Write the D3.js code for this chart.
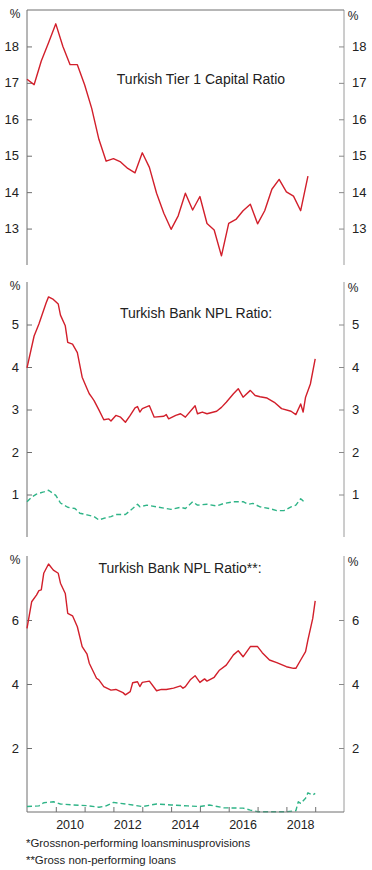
<!DOCTYPE html>
<html><head><meta charset="utf-8">
<script src="https://cdn.jsdelivr.net/npm/d3@7"></script>
<style>
body{margin:0;background:#fff}
svg{display:block}
text{font-family:"Liberation Sans",Arial,sans-serif;fill:#222}
</style>
</head><body><svg id="c" width="372" height="870"></svg>
<script>
// ---------- DATA ----------
const tier1Dates = ["2009-01","2009-04","2009-07","2009-10","2010-01","2010-04","2010-07","2010-10",
 "2011-01","2011-04","2011-07","2011-10","2012-01","2012-04","2012-07","2012-10",
 "2013-01","2013-04","2013-07","2013-10","2014-01","2014-04","2014-07","2014-10",
 "2015-01","2015-04","2015-07","2015-10","2016-01","2016-04","2016-07","2016-10",
 "2017-01","2017-04","2017-07","2017-10","2018-01","2018-04","2018-07","2018-10"];
const tier1Values = [17.1,16.95,17.6,18.1,18.62,18.0,17.5,17.5,16.95,16.3,15.45,14.85,14.92,14.83,14.65,14.53,
 15.08,14.68,13.97,13.42,12.98,13.35,13.97,13.51,13.88,13.14,12.96,12.25,13.14,13.25,13.49,13.67,
 13.13,13.49,14.08,14.35,14.01,13.89,13.49,14.44];

const nplDates = ["2009-01","2009-04","2009-06","2009-09","2009-10","2009-12","2010-02","2010-03","2010-05","2010-06",
 "2010-08","2010-10","2010-12","2011-02","2011-03","2011-04","2011-05","2011-07","2011-09","2011-11","2011-12",
 "2012-02","2012-04","2012-06","2012-08","2012-10","2012-11","2012-12","2013-01","2013-04","2013-06","2013-10",
 "2013-11","2013-12","2014-03","2014-05","2014-07","2014-11","2014-12","2015-02","2015-04","2015-08","2015-10",
 "2015-12","2016-03","2016-05","2016-07","2016-10","2016-12","2017-02","2017-05","2017-08","2017-11","2018-03",
 "2018-05","2018-07","2018-08","2018-09","2018-11","2019-01"];
const nplValues = [3.98,4.73,5.01,5.51,5.65,5.59,5.48,5.22,4.97,4.58,
 4.54,4.34,3.76,3.49,3.37,3.29,3.21,2.99,2.76,2.78,2.73,
 2.86,2.82,2.70,2.86,3.04,3.07,2.94,3.02,3.09,2.82,2.84,
 2.88,2.78,2.86,2.90,2.82,3.09,2.90,2.94,2.90,2.96,3.05,
 3.17,3.37,3.49,3.29,3.45,3.33,3.30,3.27,3.17,3.02,2.96,
 2.88,3.13,2.94,3.29,3.60,4.19];

const netNplDates = ["2009-01","2009-03","2009-05","2009-08","2009-10","2010-01","2010-03","2010-06","2010-09","2010-11",
 "2011-02","2011-05","2011-07","2011-09","2011-12","2012-02","2012-06","2012-09","2012-11","2012-12","2013-03",
 "2013-07","2014-01","2014-05","2014-07","2014-10","2014-12","2015-04","2015-08","2015-11","2016-03","2016-07",
 "2016-09","2016-11","2017-02","2017-06","2017-09","2017-12","2018-03","2018-05","2018-07","2018-08","2018-09"];
const netNplValues = [0.83,0.94,1.01,1.06,1.10,0.98,0.80,0.70,0.67,0.56,
 0.52,0.48,0.40,0.44,0.48,0.53,0.53,0.67,0.77,0.71,0.75,
 0.71,0.65,0.70,0.67,0.83,0.75,0.77,0.73,0.79,0.83,0.83,
 0.77,0.79,0.71,0.67,0.62,0.62,0.71,0.75,0.90,0.85,0.86];

const grossDates = ["2009-01","2009-03","2009-05","2009-06","2009-07","2009-08","2009-10","2009-12","2010-02","2010-03",
 "2010-05","2010-06","2010-08","2010-10","2010-12","2011-02","2011-03","2011-06","2011-07","2011-09","2011-12",
 "2012-02","2012-05","2012-06","2012-08","2012-09","2012-11","2012-12","2013-01","2013-04","2013-07","2013-09",
 "2013-11","2014-02","2014-05","2014-06","2014-07","2014-09","2014-11","2015-01","2015-03","2015-04","2015-07",
 "2015-09","2015-12","2016-03","2016-05","2016-07","2016-10","2017-01","2017-03","2017-06","2017-09","2018-01",
 "2018-04","2018-05","2018-07","2018-09","2018-10","2018-12","2019-01"];
const grossValues = [5.74,6.57,6.78,6.92,6.94,7.46,7.75,7.56,7.46,7.15,
 6.83,6.21,6.13,5.79,5.17,4.93,4.65,4.18,4.13,3.92,3.81,
 3.83,3.73,3.66,3.76,4.04,4.07,3.92,4.05,4.09,3.79,3.83,
 3.83,3.87,3.94,3.87,3.92,4.13,4.26,4.05,4.16,4.09,4.21,
 4.42,4.59,4.91,5.04,4.85,5.17,5.17,4.98,4.75,4.67,4.54,
 4.49,4.49,4.75,5.01,5.38,6.05,6.60];

const grossNetDates = ["2009-01","2009-06","2009-08","2009-12","2010-03","2010-08","2011-02","2011-07","2011-10","2012-01",
 "2012-04","2012-09","2013-01","2013-07","2014-01","2014-08","2015-01","2015-05","2015-11","2016-07","2016-10",
 "2017-01","2018-01","2018-05","2018-06","2018-07","2018-09","2018-10","2018-12","2019-01"];
const grossNetValues = [0.17,0.19,0.29,0.32,0.25,0.22,0.20,0.15,0.19,0.30,
 0.27,0.22,0.17,0.25,0.22,0.19,0.17,0.22,0.13,0.12,0.06,
 0.01,0.01,0.04,0.32,0.27,0.43,0.60,0.53,0.58];

const yearTicks = ["2010","2011","2012","2013","2014","2015","2016","2017","2018","2019"];
const yearLabels = ["2010","2012","2014","2016","2018"];
const tier1Ticks = [13,14,15,16,17,18];
const nplTicks = [1,2,3,4,5];
const grossTicks = [2,4,6];
const titles = ["Turkish Tier 1 Capital Ratio","Turkish Bank NPL Ratio:","Turkish Bank NPL Ratio**:"];
const footnotes = ["*Grossnon-performing loansminusprovisions","**Gross non-performing loans"];

// ---------- DRAW ----------
const svg = d3.select("#c");
svg.append("rect").attr("width",372).attr("height",870).attr("fill","#fff");
const parse = d3.timeParse("%Y-%m");
const parseY = d3.timeParse("%Y");
const xL = 27, xR = 344;
const x = d3.scaleTime().domain([parseY("2009"), parseY("2020")]).range([xL, xR]);
const RED = "#d21f2b", GREEN = "#2fb487";

const panels = [
  {top:10, bottom:265, dom:[12,19], ticks:tier1Ticks, title:titles[0], tx:201, ty:84, border:true,
   series:[{d:tier1Dates, v:tier1Values, c:RED, dash:null}]},
  {top:282, bottom:537, dom:[0,6], ticks:nplTicks, title:titles[1], tx:196, ty:318,
   series:[{d:nplDates, v:nplValues, c:RED}, {d:netNplDates, v:netNplValues, c:GREEN, dash:"5,3"}]},
  {top:556, bottom:812, dom:[0,8], ticks:grossTicks, title:titles[2], tx:180, ty:573, xaxis:true,
   series:[{d:grossDates, v:grossValues, c:RED}, {d:grossNetDates, v:grossNetValues, c:GREEN, dash:"5,3"}]}
];

panels.forEach(p => {
  const y = d3.scaleLinear().domain(p.dom).range([p.bottom, p.top]);
  const g = svg.append("g");
  g.append("line").attr("x1",xL).attr("x2",xL).attr("y1",p.top).attr("y2",p.bottom).attr("stroke","#6f6f6f").attr("stroke-width",1);
  g.append("line").attr("x1",xR).attr("x2",xR).attr("y1",p.top).attr("y2",p.bottom).attr("stroke","#9a9a9a").attr("stroke-width",1);
  if (p.border) g.append("line").attr("x1",xL).attr("x2",xR).attr("y1",p.top).attr("y2",p.top).attr("stroke","#6f6f6f");
  const la = d3.axisRight(y).tickValues(p.ticks).tickSize(5).tickFormat("");
  g.append("g").attr("transform",`translate(${xL},0)`).call(la).call(s=>{s.select(".domain").remove();s.selectAll("line").attr("stroke","#6f6f6f");});
  const ra = d3.axisLeft(y).tickValues(p.ticks).tickSize(5).tickFormat("");
  g.append("g").attr("transform",`translate(${xR},0)`).call(ra).call(s=>{s.select(".domain").remove();s.selectAll("line").attr("stroke","#8a8a8a");});
  p.ticks.forEach(t => {
    g.append("text").attr("x",19).attr("y",y(t)+4.5).attr("text-anchor","end").attr("font-size",13).text(t);
    g.append("text").attr("x",352).attr("y",y(t)+4.5).attr("text-anchor","start").attr("font-size",13).text(t);
  });
  g.append("text").attr("x",15).attr("y",p.top+7.5).attr("text-anchor","middle").attr("font-size",12).text("%");
  g.append("text").attr("x",353).attr("y",p.top+10).attr("text-anchor","middle").attr("font-size",12).text("%");
  g.append("text").attr("x",p.tx).attr("y",p.ty).attr("text-anchor","middle").attr("font-size",14).text(p.title);
  p.series.forEach(s => {
    const pts = s.d.map((d,i)=>[parse(d), s.v[i]]);
    const line = d3.line().x(d=>x(d[0])).y(d=>y(d[1]));
    g.append("path").attr("d",line(pts)).attr("fill","none").attr("stroke",s.c)
      .attr("stroke-width",1.4).attr("stroke-linejoin","round").attr("stroke-dasharray",s.dash||null);
  });
  if (p.xaxis) {
    const xa = d3.axisTop(x).tickValues(yearTicks.map(parseY)).tickSize(5).tickFormat("");
    g.append("g").attr("transform",`translate(0,${p.bottom})`).call(xa)
      .call(s=>{s.select(".domain").remove();s.selectAll("line").attr("stroke","#6f6f6f");});
    g.append("line").attr("x1",xL).attr("x2",xR).attr("y1",p.bottom).attr("y2",p.bottom).attr("stroke","#6f6f6f");
    yearLabels.forEach(l => {
      const mid = new Date(+l, 6, 1);
      g.append("text").attr("x",x(mid)).attr("y",p.bottom+16.5).attr("text-anchor","middle").attr("font-size",12.5).text(l);
    });
  }
});
footnotes.forEach((f,i)=>{
  svg.append("text").attr("x",26).attr("y",847+i*17).attr("font-size",11.4).text(f);
});
</script></body></html>
